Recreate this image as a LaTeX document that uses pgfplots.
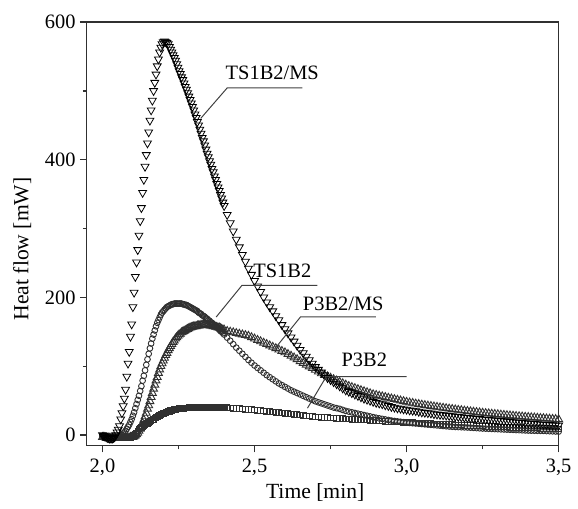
\documentclass[border=0pt]{standalone}
\usepackage{fontspec}
\setmainfont{Liberation Serif}
\usepackage{pgfplots}
\usepackage{pgfplotstable}
\pgfplotsset{compat=1.18}
\definecolor{ink}{HTML}{303030}
\definecolor{lead}{HTML}{404040}

% t  TS1B2/MS  TS1B2  P3B2/MS  P3B2
\pgfplotstableread{
t a b c d
2.000 0 -2 -3 -3
2.004 -1 -2 -3 -3
2.008 -2 -3 -3 -4
2.012 -3 -3 -4 -4
2.016 -4 -3 -4 -4
2.020 -4 -3 -4 -4
2.024 -5 -4 -4 -4
2.028 -5 -4 -4 -4
2.032 -5 -4 -4 -4
2.036 -4 -4 -4 -4
2.040 -3 -4 -4 -4
2.044 0 -4 -4 -4
2.048 4 -3 -4 -4
2.052 8 -3 -4 -4
2.056 13 -3 -4 -4
2.060 23 -2 -4 -4
2.064 32 0 -4 -4
2.068 42 2 -4 -4
2.072 53 4 -4 -4
2.076 66 6 -4 -4
2.080 85 9 -4 -4
2.084 104 12 -4 -4
2.088 121 15 -4 -4
2.092 143 19 -3 -4
2.096 161 23 -3 -3
2.100 186 28 -3 -2
2.104 207 33 -2 -1
2.108 230 39 -1 1
2.112 251 45 1 3
2.116 269 51 3 6
2.120 290 57 6 9
2.124 311 64 9 10
2.128 330 71 13 11
2.132 352 79 17 12
2.136 371 86 22 14
2.140 390 94 27 15
2.144 407 102 32 16
2.148 424 110 38 17
2.152 440 118 43 18
2.156 457 126 49 19.5
2.160 472 133 55 21
2.164 486 140 61 22
2.168 500 146 67 23
2.172 512 152 73 24.5
2.176 524 158 79 25.5
2.180 536 163 84 26.5
2.184 546 167 90 27.5
2.188 556 171 95 28.5
2.192 563 175 100 29.5
2.196 568 178 104 30.5
2.200 571 180 108 31
2.204 572 182 112 32
2.208 571 184 116 32.5
2.212 570 186 119 33.5
2.216 568 187 123 34
2.220 564 188 126 34.5
2.224 560 189 129 35.5
2.228 556 190 132 36
2.232 552 190 135 36.5
2.236 548 191 137 37
2.240 544 191 140 37.5
2.244 539 191 142 38
2.248 534 191 144 38
2.252 529 191 146 38.5
2.256 525 191 147 38.5
2.260 520 191 149 39
2.264 516 190 150 39
2.268 511 190 151 39
2.272 506 189 152 39.5
2.276 502 189 153 39.5
2.280 497 188 154 39.5
2.284 492 187 155 40
2.288 487 186 156 40
2.292 482 185 156.5 40
2.296 477 184 157 40
2.300 472 183 157.5 40
2.304 466 182 158 40
2.308 461 181 158 40
2.312 455 180 159 40
2.316 450 178 159 40
2.320 444 177 159 40
2.324 438 176 160 40
2.328 432 174 160 40
2.332 427 173 160 40
2.336 421 172 160 40
2.340 415 170 160 40
2.344 409 169 160 40
2.348 404 167 160 40
2.352 398 166 159 40
2.356 393 164 159 40
2.360 387 163 159 40
2.364 382 161 158 40
2.368 376 160 158 40
2.372 371 158 157 40
2.376 365 157 157 40
2.380 360 155 156 40
2.384 355 153 156 40
2.388 349 151 155 40
2.392 344 150 154 40
2.396 338 148 153 40
2.400 333 146 153 40
2.41 320 141.5 151 40
2.42 308 137 150 39.5
2.43 296 132 149 39
2.44 284 127 148 39
2.45 273 122.5 147 38.5
2.46 262 118 146 38
2.47 252 113.5 145 37.5
2.48 242 109 144 37
2.49 233 105 142 37
2.50 224 101 140 36.5
2.51 216 97.5 138 36
2.52 208 94 136 35.5
2.53 200 90.5 134 35
2.54 193 87 132 34.5
2.55 186 84 130 34
2.56 180 81 128 33.5
2.57 173 78 126 33
2.58 167 75 124 32.5
2.59 160 72.5 122 32
2.60 154 70 120 31.5
2.61 148 67.5 117.5 31
2.62 142 65 115 30.5
2.63 136 63 112.5 30
2.64 130 61 110 29.5
2.65 124 59 107 29
2.66 119 57 104.5 28.5
2.67 114 55 102 28
2.68 109 53 99.5 27.5
2.69 104 51 97 27
2.70 99 49 94.5 26.5
2.71 95 47.5 92 26
2.72 91 46 89.5 25.8
2.73 87 44.5 87 25.5
2.74 83 43 85 25.2
2.75 80 41.5 83 25
2.76 77 40 81 24.7
2.77 74 39 79 24.4
2.78 71 38 77 24.1
2.79 68 36.5 75 23.8
2.80 65 35 73 23.5
2.81 63 34 71 23.2
2.82 61 33 69.5 23
2.83 59 32 68 22.7
2.84 57 31 66.5 22.4
2.85 55 30 65 22.2
2.86 53 29 63.5 21.9
2.87 51.5 28 62 21.7
2.88 50 27 60.5 21.4
2.89 48.5 26 59 21.2
2.90 47 25 58 21
2.91 46 24.2 57 20.7
2.92 45 23.4 56 20.4
2.93 43.5 22.6 55 20.1
2.94 42.5 21.8 54 19.8
2.95 41 21 53 19.5
2.96 40 20.4 52 19.3
2.97 39 19.8 51 19
2.98 38.5 19.2 50 18.8
2.99 37.5 18.6 49 18.6
3.00 37 18 48 18.4
3.01 36 17.6 47 18.2
3.02 35.5 17.2 46.5 18
3.03 35 16.8 45.5 17.7
3.04 34 16.4 44.8 17.5
3.05 33 16 44 17.2
3.06 32.5 15.6 43.3 17
3.07 32 15.2 42.6 16.7
3.08 31.5 14.8 42 16.5
3.09 30.5 14.4 41.3 16.2
3.10 30 14 40.7 16
3.11 29.5 13.6 40 15.8
3.12 29 13.2 39.4 15.6
3.13 28.5 12.8 38.8 15.4
3.14 28 12.4 38.2 15.2
3.15 27.5 12 37.6 15
3.16 27 11.8 37 14.8
3.17 26.5 11.6 36.4 14.6
3.18 26 11.4 35.9 14.4
3.19 25.5 11.2 35.3 14.2
3.20 25 11 34.8 14
3.21 24.6 10.7 34.2 13.8
3.22 24.2 10.4 33.7 13.6
3.23 23.8 10.1 33.2 13.4
3.24 23.4 9.8 32.7 13.2
3.25 23 9.5 32.2 13
3.26 22.6 9.3 31.7 12.8
3.27 22.2 9.1 31.3 12.6
3.28 21.8 8.9 30.8 12.4
3.29 21.4 8.7 30.4 12.2
3.30 21 8.5 30 12
3.31 20.6 8.3 29.5 11.8
3.32 20.2 8.1 29.1 11.7
3.33 19.8 7.9 28.7 11.5
3.34 19.4 7.7 28.3 11.4
3.35 19 7.5 27.9 11.2
3.36 18.6 7.3 27.5 11.1
3.37 18.2 7.1 27.1 10.9
3.38 17.8 6.9 26.7 10.8
3.39 17.4 6.7 26.3 10.6
3.40 17 6.5 26 10.5
3.41 16.6 6.4 25.6 10.4
3.42 16.3 6.3 25.3 10.2
3.43 16 6.2 24.9 10.1
3.44 15.6 6.1 24.6 9.9
3.45 15.3 6 24.3 9.8
3.46 15 5.8 23.9 9.6
3.47 14.7 5.6 23.6 9.5
3.48 14.4 5.4 23.3 9.3
3.49 14.2 5.2 23 9.2
3.50 14 5 22.7 9
}\heat

\begin{document}
\begin{tikzpicture}
\begin{axis}[
  scale only axis,
  width=238pt, height=213.5pt,
  xmin=1.9485, xmax=3.5,
  ymin=-15, ymax=600,
  xtick={2,2.5,3,3.5},
  ytick={0,200,400,600},
  minor x tick num=1, minor y tick num=1,
  xtick pos=bottom, ytick pos=left,
  tick align=outside,
  major tick length=3.5pt, minor tick length=2pt,
  tick style={line width=0.6pt, ink},
  axis line style={line width=0.65pt, ink},
  /pgf/number format/assume math mode=true,
  x tick label style={/pgf/number format/fixed, /pgf/number format/fixed zerofill,
    /pgf/number format/precision=1, /pgf/number format/use comma},
  tick label style={font=\fontsize{10.3}{12}\selectfont},
  yticklabel style={inner xsep=2pt},
  label style={font=\fontsize{10.9}{13}\selectfont},
  xlabel={Time [min]},
  ylabel={Heat flow [mW]},
  xlabel style={at={(rel axis cs:0.484,-0.126)}, anchor=base},
  ylabel style={at={(rel axis cs:-0.137,0.464)}, anchor=center},
  clip mode=individual,
  every axis plot/.append style={only marks, mark options={draw=ink, fill=none, line width=0.45pt}},
]
\path (rel axis cs:-0.184,-0.1375) rectangle (rel axis cs:1.0305,1.0522);

\addplot[mark=square, mark size=1.4pt] table[x=t, y=d] {\heat};
\addplot[mark=triangle, mark size=2.3pt] table[x=t, y=c] {\heat};
\addplot[mark=o, mark size=1.45pt] table[x=t, y=b] {\heat};
\addplot[mark=triangle, mark size=2.3pt, mark options={rotate=180}] table[x=t, y=a] {\heat};

\begin{scope}[lead, line width=0.5pt]
\draw (axis cs:2.323,460) -- (axis cs:2.410,504.3) -- (axis cs:2.657,504.3);
\draw (axis cs:2.374,171.5) -- (axis cs:2.459,217.6) -- (axis cs:2.707,217.6);
\draw (axis cs:2.566,125) -- (axis cs:2.651,171.5) -- (axis cs:2.899,171.5);
\draw (axis cs:2.674,39) -- (axis cs:2.736,85) -- (axis cs:3.0,85);
\end{scope}
\begin{scope}[every node/.style={anchor=base west, inner sep=0pt, font=\fontsize{10.3}{12}\selectfont}]
\node at (axis cs:2.404,517) {TS1B2/MS};
\node at (axis cs:2.495,229) {TS1B2};
\node at (axis cs:2.658,181.5) {P3B2/MS};
\node at (axis cs:2.785,99.4) {P3B2};
\end{scope}
\end{axis}
\end{tikzpicture}
\end{document}
